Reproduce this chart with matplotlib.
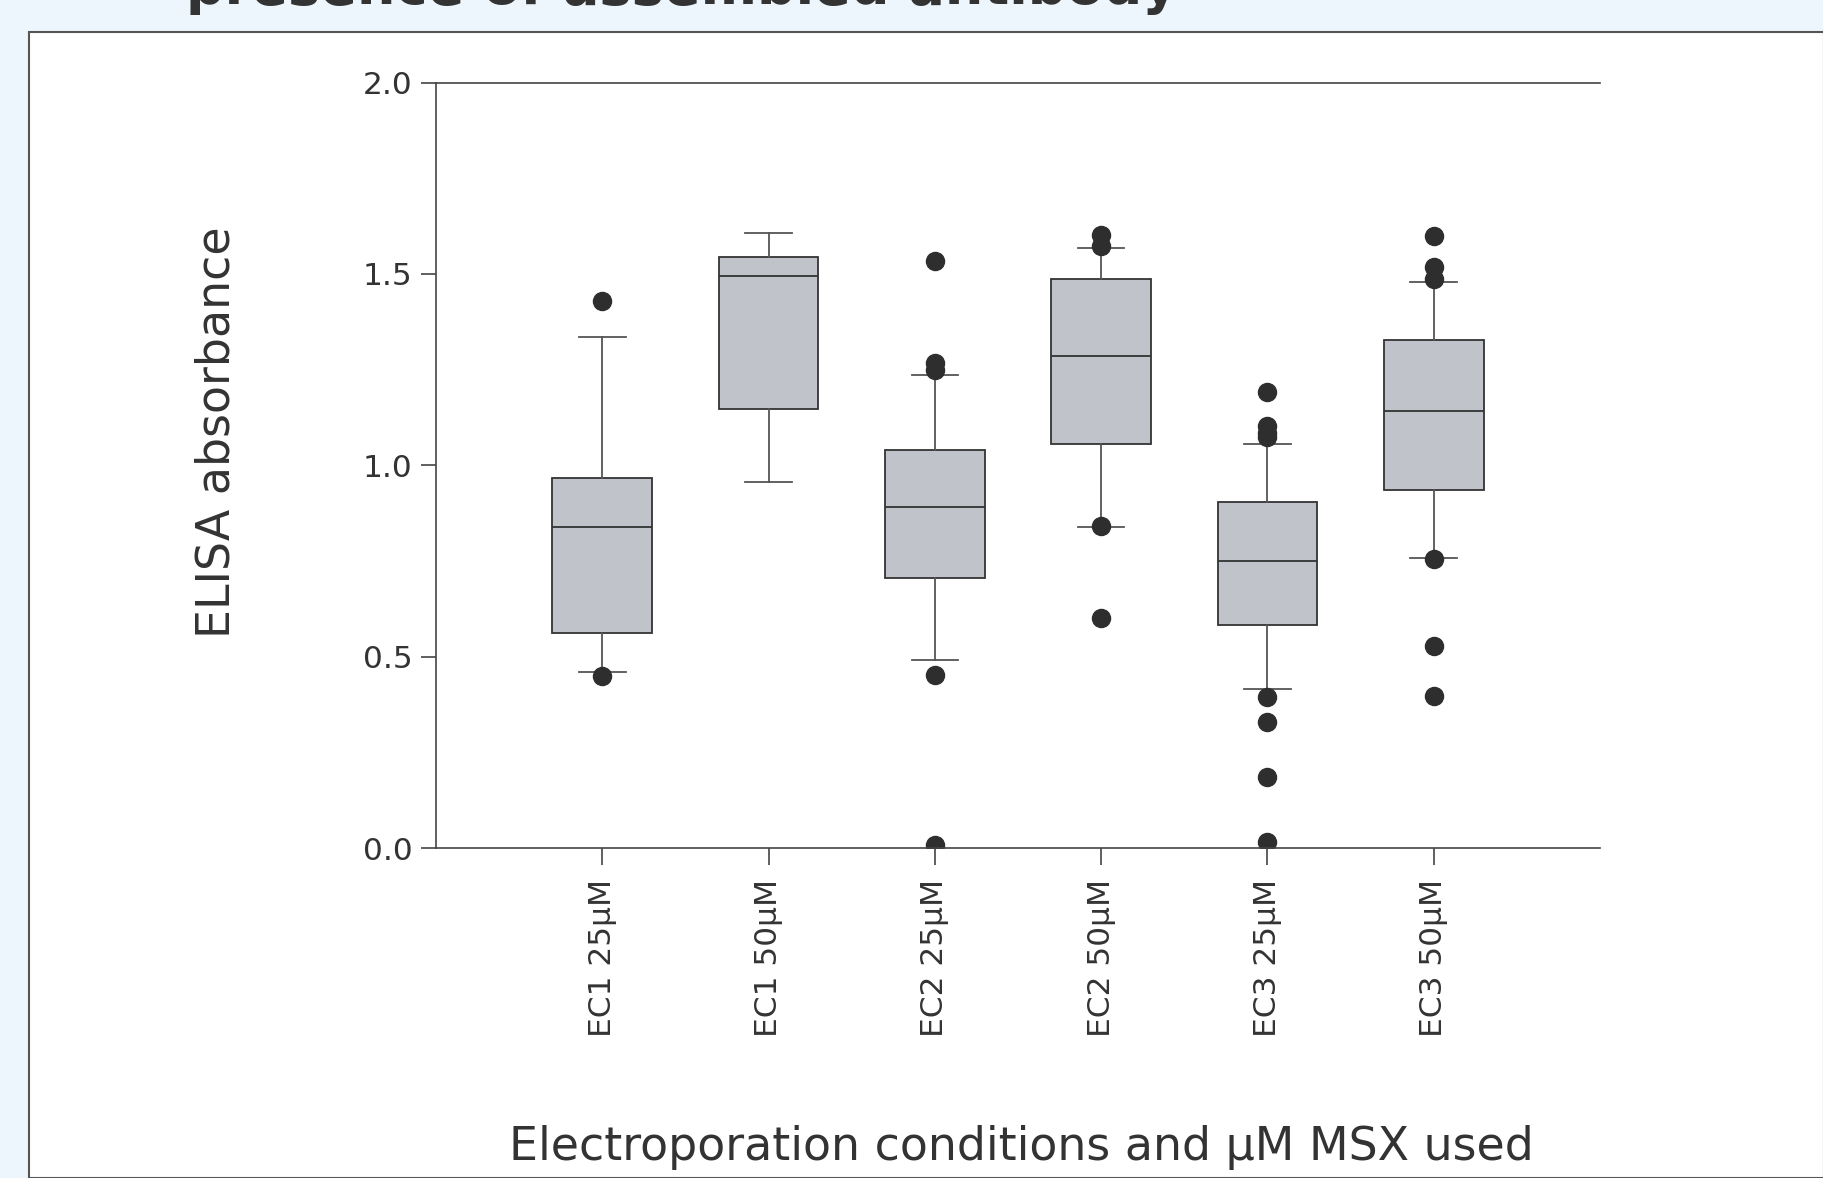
import matplotlib
matplotlib.use("Agg")
import matplotlib.pyplot as plt
from matplotlib.patches import Rectangle

categories = ["EC1 25µM", "EC1 50µM", "EC2 25µM", "EC2 50µM", "EC3 25µM", "EC3 50µM"]
q1 = [0.562, 1.146, 0.705, 1.055, 0.584, 0.936]
medians = [0.839, 1.495, 0.891, 1.286, 0.751, 1.143]
q3 = [0.967, 1.544, 1.040, 1.486, 0.903, 1.328]
whisker_low = [0.459, 0.957, 0.492, 0.839, 0.416, 0.757]
whisker_high = [1.334, 1.608, 1.237, 1.568, 1.055, 1.480]
outliers = [
    [1.429, 0.450],
    [],
    [1.535, 1.267, 1.249, 0.453, 0.009],
    [1.602, 1.574, 0.842, 0.602],
    [1.191, 1.103, 1.085, 1.073, 0.395, 0.328, 0.185, 0.015],
    [1.599, 1.517, 1.486, 0.754, 0.529, 0.398],
]
yticks = [0.0, 0.5, 1.0, 1.5, 2.0]
title = "presence of assembled antibody"
ylabel = "ELISA absorbance"
xlabel = "Electroporation conditions and µM MSX used"

W, H = 1824, 1178
fig = plt.figure(figsize=(W / 100, H / 100), dpi=100)
fig.patch.set_facecolor("#ECF6FC")

# white panel
panel = Rectangle((29 / W, 0), 1 - 29 / W, (H - 32) / H, transform=fig.transFigure,
                  facecolor="white", edgecolor="#555555", linewidth=1.5, zorder=0)
fig.add_artist(panel)

fig.text(186 / W, 1 - 4 / H, title, fontsize=39, fontweight="bold", color="#333333",
         ha="left", va="baseline", family="DejaVu Sans")

ax = fig.add_axes([436 / W, 1 - 848 / H, (1600 - 436) / W, (848 - 82.6) / H])
ax.set_facecolor("none")

stats = []
for i in range(len(categories)):
    stats.append(dict(med=medians[i], q1=q1[i], q3=q3[i], whislo=whisker_low[i],
                      whishi=whisker_high[i], fliers=outliers[i], label=categories[i]))

positions = list(range(1, len(categories) + 1))
ax.bxp(stats, positions=positions, widths=0.6, patch_artist=True, showfliers=True,
       boxprops=dict(facecolor="#C0C3CA", edgecolor="#333333", linewidth=1.3),
       medianprops=dict(color="#333333", linewidth=1.3),
       whiskerprops=dict(color="#555555", linewidth=1.3),
       capprops=dict(color="#555555", linewidth=1.3),
       capwidths=0.28,
       flierprops=dict(marker="o", markerfacecolor="#2E2E2E", markeredgecolor="#2E2E2E",
                       markersize=13, linestyle="none"))

ax.set_xlim(0, 7)
ax.set_ylim(0, 2.0)
ax.set_yticks(yticks)
ax.set_yticklabels([f"{v:.1f}" for v in yticks])
ax.set_xticks(positions)
ax.set_xticklabels(categories, rotation=90)

for s in ["left", "top", "bottom"]:
    ax.spines[s].set_color("#444444")
    ax.spines[s].set_linewidth(1.2)
ax.spines["right"].set_visible(False)

ax.tick_params(axis="y", direction="out", length=11, width=1.2, color="#444444",
               labelsize=22.5, labelcolor="#333333", pad=6)
ax.tick_params(axis="x", direction="out", length=12, width=1.2, color="#444444",
               labelsize=22.5, labelcolor="#333333", pad=10)

fig.text(217 / W, 1 - 432 / H, ylabel, rotation=90, fontsize=33, color="#333333",
         ha="center", va="center")
fig.text(1021 / W, 1 - 1147 / H, xlabel, fontsize=33, color="#333333",
         ha="center", va="center")

fig.savefig("out.png", dpi=100, facecolor=fig.get_facecolor())
